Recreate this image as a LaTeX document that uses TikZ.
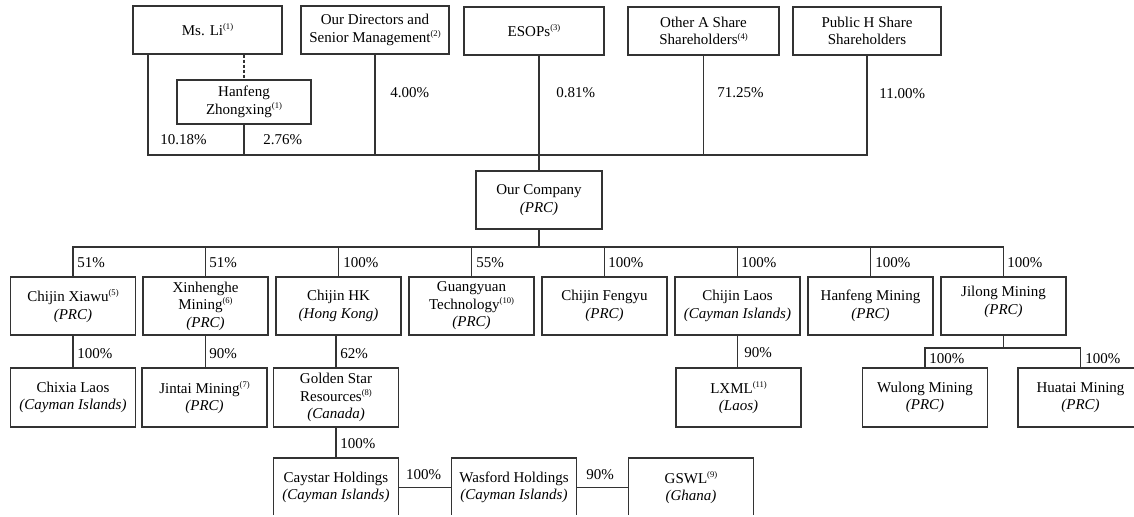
\documentclass[tikz,border=0pt]{standalone}
\usepackage{fontspec}
\setmainfont{Liberation Serif}
\newcommand\fn[1]{\raisebox{0.85ex}{\fontsize{4.3}{5}\selectfont(#1)}}
\begin{document}
\begin{tikzpicture}[x=0.5pt,y=-0.5pt,
  box/.style={draw=black!80, line width=0.6pt, inner sep=0pt, align=center,
    font=\fontsize{7.5}{8.75}\selectfont, text=black},
  top/.style={box, minimum height=24pt},
  lvl/.style={box, minimum width=62.5pt, minimum height=29pt},
  lvlb/.style={box, minimum width=62.5pt, minimum height=29.5pt},
  pct/.style={inner sep=0pt, anchor=west, font=\fontsize{7.5}{9}\selectfont, text=black},
  pctc/.style={pct, anchor=center},
  ln/.style={draw=black!80, line width=0.6pt},
  dsh/.style={ln, dash pattern=on 1.5pt off 1pt}]
\useasboundingbox (0,0) rectangle (1134,516);
\clip (0,0) rectangle (1134,514);
% top row
\node[top, minimum width=74.5pt] (msli) at (207.5,30) {Ms. Li\fn{1}};
\node[top, minimum width=74pt] (dir) at (375,30) {Our Directors and\\Senior Management\fn{2}};
\node[top, minimum width=70pt] (esop) at (534,31) {ESOPs\fn{3}};
\node[top, minimum width=75.5pt] (otha) at (703.5,31) {Other A Share\\Shareholders\fn{4}};
\node[top, minimum width=74pt] (pubh) at (867,31) {Public H Share\\Shareholders};
\node[box, minimum width=67pt, minimum height=22pt] (hzx) at (244,102) {Hanfeng\\Zhongxing\fn{1}};
\node[box, minimum width=63pt, minimum height=29pt] (ocomp) at (539,200) {Our Company\\\textit{(PRC)}};
% level 2
\node[lvl] (xiawu) at (73,306) {Chijin Xiawu\fn{5}\\\textit{(PRC)}};
\node[lvl] (xhh) at (205.5,306) {Xinhenghe\\Mining\fn{6}\\\textit{(PRC)}};
\node[lvl] (chk) at (338.5,306) {Chijin HK\\\textit{(Hong Kong)}};
\node[lvl] (gy) at (471.5,306) {Guangyuan\\Technology\fn{10}\\\textit{(PRC)}};
\node[lvl] (cf) at (604.5,306) {Chijin Fengyu\\\textit{(PRC)}};
\node[lvl] (cl) at (737.5,306) {Chijin Laos\\\textit{(Cayman Islands)}};
\node[lvl] (hm) at (870.5,306) {Hanfeng Mining\\\textit{(PRC)}};
\node[lvl, text depth=5.5pt] (jl) at (1003.5,306) {Jilong Mining\\\textit{(PRC)}};
% level 3
\node[lvlb] (cxl) at (73,397.5) {Chixia Laos\\\textit{(Cayman Islands)}};
\node[lvlb] (jt) at (204.5,397.5) {Jintai Mining\fn{7}\\\textit{(PRC)}};
\node[lvlb] (gsr) at (336,397.5) {Golden Star\\Resources\fn{8}\\\textit{(Canada)}};
\node[lvlb] (lxml) at (738.5,397.5) {LXML\fn{11}\\\textit{(Laos)}};
\node[lvlb] (wl) at (925,397.5) {Wulong Mining\\\textit{(PRC)}};
\node[lvlb] (ht) at (1080.5,397.5) {Huatai Mining\\\textit{(PRC)}};
% level 4
\node[lvlb] (cay) at (336,487.5) {Caystar Holdings\\\textit{(Cayman Islands)}};
\node[lvlb] (was) at (514,487.5) {Wasford Holdings\\\textit{(Cayman Islands)}};
\node[lvlb] (gswl) at (691,487.5) {GSWL\fn{9}\\\textit{(Ghana)}};
% top connectors
\coordinate (b1) at (148,155);
\coordinate (b2) at (867,155);
\draw[ln] (msli.south -| b1) -- (b1) -- (b2) -- (pubh.south);
\draw[dsh] (msli.south -| hzx.north) -- (hzx.north);
\draw[ln] (hzx.south) -- (hzx.south |- b1);
\draw[ln] (dir.south) -- (dir.south |- b1);
\draw[ln] (esop.south -| ocomp.north) -- (ocomp.north);
\draw[ln] (otha.south) -- (otha.south |- b1);
% level 2 connectors
\coordinate (c1) at (73,247);
\draw[ln] (ocomp.south) -- (ocomp.south |- c1);
\draw[ln] (xiawu.north) -- (xiawu.north |- c1) -- (jl.north |- c1) -- (jl.north);
\foreach \n in {xhh,chk,gy,cf,cl,hm} \draw[ln] (\n.north) -- (\n.north |- c1);
% level 3 connectors
\draw[ln] (xiawu.south) -- (cxl.north);
\draw[ln] (xhh.south) -- (xhh.south |- jt.north);
\draw[ln] (gsr.north |- chk.south) -- (gsr.north);
\draw[ln] (cl.south) -- (cl.south |- lxml.north);
\coordinate (d1) at (1003.5,348);
\draw[ln] (jl.south) -- (d1);
\draw[ln] (wl.north) -- (wl.north |- d1) -- (ht.north |- d1) -- (ht.north);
% level 4 connectors
\draw[ln] (gsr.south) -- (cay.north);
\draw[ln] (cay.east) -- (was.west);
\draw[ln] (was.east) -- (gswl.west);
% percentages
\node[pct] (p1) at (160,140) {10.18\%};
\node[pct] (p2) at (263,140) {2.76\%};
\node[pct] (p3) at (390,93) {4.00\%};
\node[pct] (p4) at (556,93) {0.81\%};
\node[pct] (p5) at (717,93) {71.25\%};
\node[pct] (p6) at (879,94) {11.00\%};
\node[pct] (q1) at (77,262.5) {51\%};
\node[pct] (q2) at (209,262.5) {51\%};
\node[pct] (q3) at (343,262.5) {100\%};
\node[pct] (q4) at (476,262.5) {55\%};
\node[pct] (q5) at (608,262.5) {100\%};
\node[pct] (q6) at (741,262.5) {100\%};
\node[pct] (q7) at (875,262.5) {100\%};
\node[pct] (q8) at (1007,262.5) {100\%};
\node[pct] (r1) at (77,354) {100\%};
\node[pct] (r2) at (209,354) {90\%};
\node[pct] (r3) at (340,354) {62\%};
\node[pct] (r4) at (744,353) {90\%};
\node[pct] (r5) at (929,359) {100\%};
\node[pct] (r6) at (1085,359) {100\%};
\node[pct] (s1) at (340,444) {100\%};
\node[pctc] (s2) at (423.5,475) {100\%};
\node[pctc] (s3) at (600,475) {90\%};
\end{tikzpicture}
\end{document}
